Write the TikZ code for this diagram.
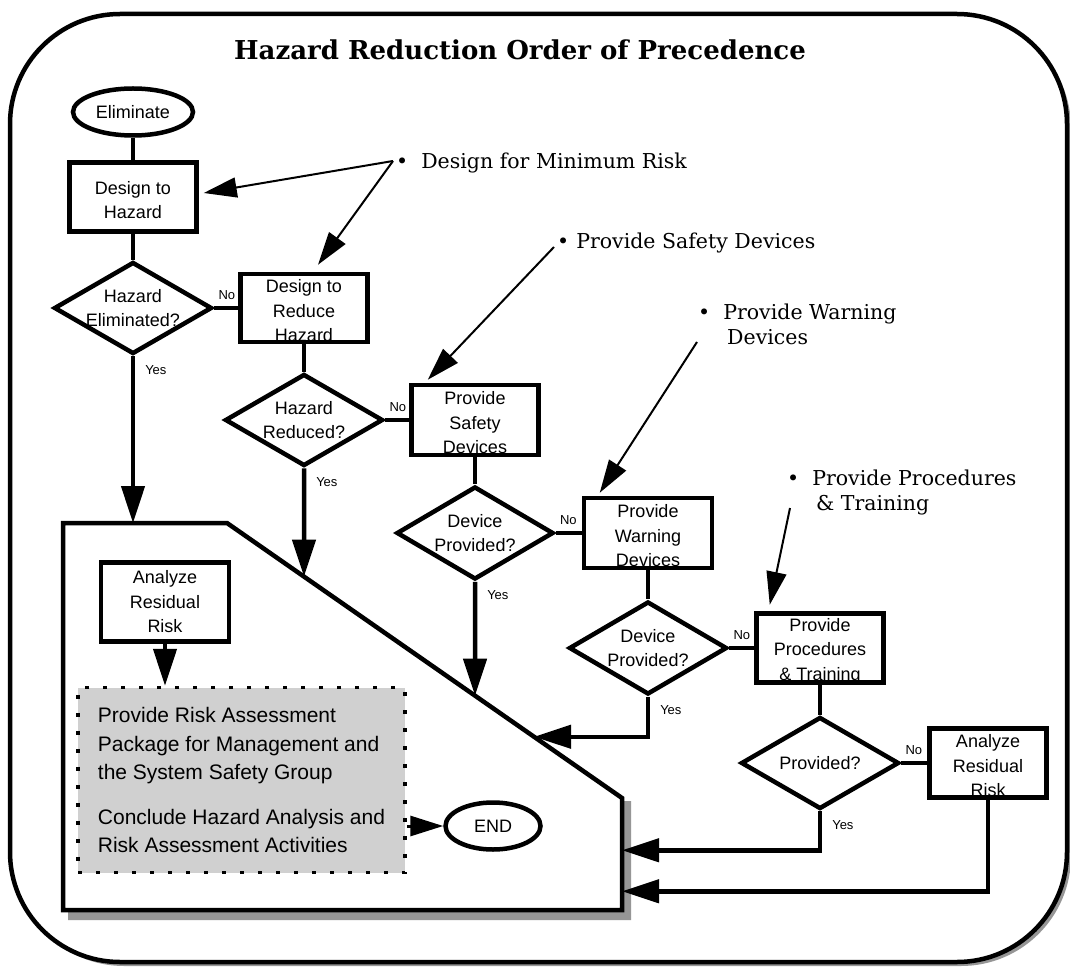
\documentclass[tikz,border=0pt]{standalone}
\usepackage{fontspec}
\setmainfont{Liberation Sans}
\newfontfamily\bookfont{DejaVu Serif}
\usetikzlibrary{shapes.geometric,arrows.meta,calc,positioning}
\definecolor{pkggray}{RGB}{208,208,208}
\definecolor{shadegray}{RGB}{150,150,150}
\tikzset{
  box/.style={draw,line width=4.5pt,minimum width=127pt,minimum height=69pt,inner sep=0pt},
  ask/.style={draw,diamond,line width=4.5pt,minimum width=158pt,minimum height=92pt,inner sep=0pt},
  term/.style={draw,ellipse,line width=4.5pt,inner sep=0pt,font=\fontsize{18}{24.5}\selectfont},
  txt/.style={align=center,inner sep=0pt,font=\fontsize{18}{24.5}\selectfont},
  boxtxt/.style={txt,yshift=-3pt},
  yes/.style={anchor=north west,inner sep=0pt,xshift=10pt,yshift=-7pt,font=\fontsize{13}{15}\selectfont},
  no/.style={anchor=south west,inner sep=0pt,xshift=2pt,yshift=6pt,font=\fontsize{13}{15}\selectfont},
  flow/.style={line width=4.5pt},
  flowarr/.style={line width=4.5pt,-{Triangle[length=37pt,width=23pt]}},
  hint/.style={line width=2pt,-{Triangle[length=33pt,width=20pt]}},
  bul/.style={anchor=base west,align=left,inner sep=0pt,font=\bookfont\fontsize{20.5}{24.5}\selectfont},
}
\begin{document}
\begin{tikzpicture}[x=1pt,y=-1pt]
\useasboundingbox (0,0) rectangle (1070,968);
% frame and title
\fill[shadegray,rounded corners=110pt] (14,18) rectangle (1071,966);
\draw[line width=4.5pt,fill=white,rounded corners=110pt] (10,14) rectangle (1067,962);
\node[font=\bookfont\bfseries\fontsize{26}{30}\selectfont] (title) at (520,50) {Hazard Reduction Order of Precedence};
% closing area
\coordinate (pa) at (63,523);
\coordinate (pb) at (227,523);
\coordinate (pc) at (622,798);
\coordinate (pd) at (622,910);
\coordinate (pe) at (63,910);
\fill[shadegray] (624,801) -- (631,801) -- (631,920) -- (68,920) -- (68,912) -- (624,912) -- cycle;
\draw[line width=4.5pt,fill=white] (pa) -- (pb) -- (pc) -- (pd) -- (pe) -- cycle;
% chart
\node[term,minimum width=120pt,minimum height=47pt] (elim) at (133,112) {Eliminate};
\node[box,label={[boxtxt]center:Design to\\Hazard}] (dth) at (133,197) {};
\node[ask,label={[txt]center:Hazard\\Eliminated?}] (dq1) at (133,308) {};
\node[box,minimum height=68pt,label={[boxtxt]center:Design to\\Reduce\\Hazard}] (dtr) at (304,308) {};
\node[ask,label={[txt]center:Hazard\\Reduced?}] (hr) at (304,420) {};
\node[box,minimum height=70pt,label={[boxtxt]center:Provide\\Safety\\Devices}] (psd) at (475,420) {};
\node[ask,minimum width=157pt,minimum height=93pt,label={[txt]center:Device\\Provided?}] (dp1) at (475,533) {};
\node[box,minimum width=128pt,minimum height=70pt,label={[boxtxt]center:Provide\\Warning\\Devices}] (pwd) at (648,533) {};
\node[ask,minimum height=93pt,label={[txt]center:Device\\Provided?}] (dp2) at (648,648) {};
\node[box,label={[boxtxt]center:Provide\\Procedures\\\& Training}] (ppt) at (820,648) {};
\node[ask,label={[txt]center:Provided?}] (pq) at (820,763) {};
\node[box,minimum width=117pt,label={[boxtxt]center:Analyze\\Residual\\Risk}] (arr2) at (988,763) {};
\node[box,minimum width=128pt,minimum height=79pt,label={[txt]center:Analyze\\Residual\\Risk}] (arr1) at (165,602) {};
\node[draw,fill=pkggray,line width=3.5pt,dash pattern=on 4pt off 14pt,minimum width=327pt,minimum height=185pt,
  inner xsep=18pt,align=left,font=\fontsize{21}{28.5}\selectfont] (pkg) at (241.5,780)
  {Provide Risk Assessment\\Package for Management and\\the System Safety Group\\[16pt]Conclude Hazard Analysis and\\Risk Assessment Activities};
\node[term,minimum width=95pt,minimum height=47pt] (endn) at (493,826) {END};
\foreach \a/\b in {elim/dth,dth/dq1,dtr/hr,psd/dp1,pwd/dp2,ppt/pq}{\draw[flow] (\a.south) -- (\b.north);}
\foreach \a/\b in {dq1/dtr,hr/psd,dp1/pwd,dp2/ppt,pq/arr2}{\draw[flow] (\a.east) node[no]{No} -- (\b.west);}
% yes branches
\coordinate (j2) at ($(dp2.south)+(0,40)$);
\coordinate (j2l) at (j2 -| pa);
\coordinate (j3) at ($(pq.south)+(0,39)$);
\coordinate (j4) at ($(arr2.south)+(0,91.5)$);
\draw[flowarr] (dq1.south) node[yes]{Yes} -- (dq1.south |- pa);
\draw[flowarr] (hr.south) node[yes]{Yes} -- (intersection of pb--pc and hr.north--hr.south);
\draw[flowarr] (dp1.south) node[yes]{Yes} -- (intersection of pb--pc and dp1.north--dp1.south);
\draw[flowarr] (dp2.south) node[yes]{Yes} -- (j2) -- (intersection of pb--pc and j2--j2l);
\draw[flowarr] (pq.south) node[yes]{Yes} -- (j3) -- (j3 -| pc);
\draw[flowarr] (arr2.south) -- (j4) -- (j4 -| pc);
\draw[flowarr] (arr1.south) -- (arr1.south |- pkg.north);
\draw[line width=3pt,-{Triangle[length=33pt,width=20pt]}] (pkg.east |- endn.west) -- (endn.west);
% bullets
\node[bul] (bmin) at (396,169) {\textbullet\hspace{13pt}Design for Minimum Risk};
\node[bul] (bsafe) at (557,248) {\textbullet\hspace{7pt}Provide Safety Devices};
\node[bul] (bwarn) at (698,344) {\textbullet\hspace{13pt}Provide Warning\\\hspace{29pt}Devices};
\node[bul] (bproc) at (787,510) {\textbullet\hspace{13pt}Provide Procedures\\\hspace{29pt}\& Training};
\coordinate (hmin) at (393,161);
\coordinate (hsafe) at (554,247);
\coordinate (hwarn) at (697,342);
\coordinate (hproc) at (790,508);
\draw[hint] (hmin) -- ($(dth.east)+(5,-4)$);
\draw[hint] (hmin) -- ($(dtr.north)+(14,-7)$);
\draw[hint] (hsafe) -- ($(psd.north west)+(18.5,-3)$);
\draw[hint] (hwarn) -- ($(pwd.north west)+(18,-3)$);
\draw[hint] (hproc) -- ($(ppt.north west)+(15.5,-6.5)$);
\end{tikzpicture}
\end{document}
